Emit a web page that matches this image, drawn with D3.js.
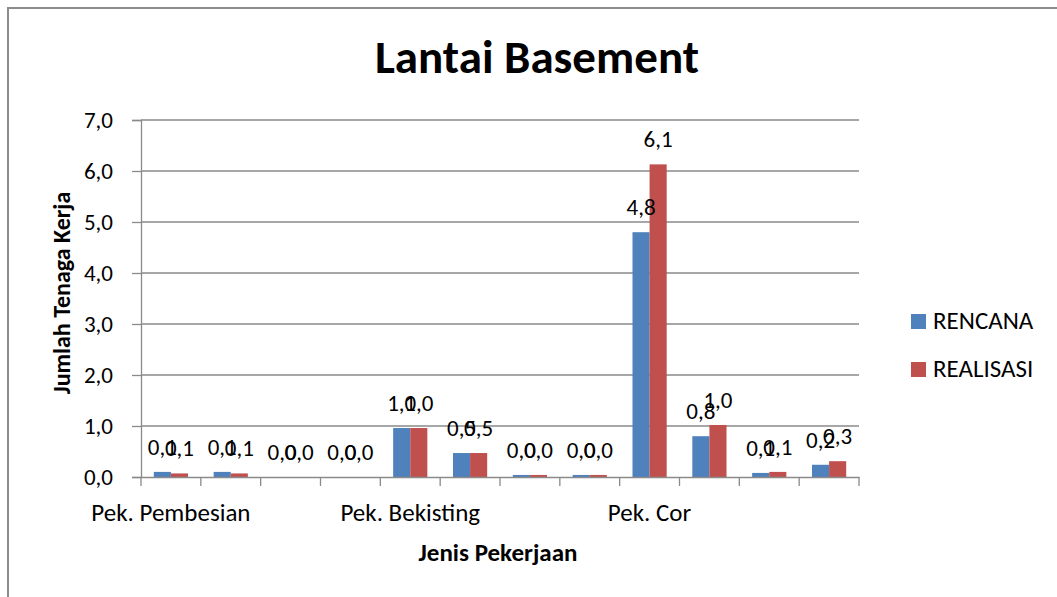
<!DOCTYPE html>
<html>
<head>
<meta charset="utf-8">
<script src="https://cdn.jsdelivr.net/npm/d3@7"></script>
<style>
  html, body { margin: 0; padding: 0; background: #fff; }
  svg { display: block; font-family: Carlito, Calibri, Lato, sans-serif; }
</style>
</head>
<body>
<svg id="chart" width="1057" height="597"></svg>
<script>
// Work categories (labels appear only on the first row of each work group)
const categoryLabels = ["Pek. Pembesian", "", "", "", "Pek. Bekisting", "", "", "", "Pek. Cor", "", "", ""];
// Planned workers
const rencana   = [0.10, 0.10, 0.00, 0.00, 0.96, 0.47, 0.04, 0.04, 4.80, 0.80, 0.08, 0.24];
// Actual workers
const realisasi = [0.07, 0.07, 0.00, 0.00, 0.96, 0.47, 0.04, 0.04, 6.13, 1.02, 0.10, 0.31];
const seriesNames = ["RENCANA", "REALISASI"];
const yTicks = [0, 1, 2, 3, 4, 5, 6, 7];

const colors = ["#4F81BD", "#C0504D"];
const gridColor = "#8a8a8a";
const font = "Carlito, Calibri, Lato, sans-serif";

const svg = d3.select("#chart");
const plot = { left: 141, right: 859, top: 120, bottom: 477 };

// chart frame
svg.append("rect")
  .attr("x", 8).attr("y", 8).attr("width", 1200).attr("height", 800)
  .attr("fill", "none").attr("stroke", "#8c8c8c").attr("stroke-width", 2);

const idx = d3.range(categoryLabels.length);
const x0 = d3.scaleBand().domain(idx).range([plot.left, plot.right]).padding(0);
const groupW = x0.bandwidth() * 2 / 3.5;
const x1 = d3.scaleBand().domain([0, 1])
  .range([(x0.bandwidth() - groupW) / 2, (x0.bandwidth() + groupW) / 2]).padding(0);
const y = d3.scaleLinear().domain([0, 7]).range([plot.bottom, plot.top]);

const fmt = v => d3.format(".1f")(v).replace(".", ",");

// horizontal gridlines
svg.append("g").selectAll("line").data(yTicks.filter(t => t > 0)).join("line")
  .attr("x1", plot.left).attr("x2", plot.right)
  .attr("y1", d => y(d)).attr("y2", d => y(d))
  .attr("stroke", gridColor).attr("stroke-width", 1.3);

// y axis
const yAxis = svg.append("g").attr("transform", `translate(${plot.left},0)`)
  .call(d3.axisLeft(y).tickValues(yTicks).tickFormat(fmt).tickSize(9).tickPadding(19));
yAxis.select(".domain").attr("stroke", gridColor).attr("stroke-width", 1.3);
yAxis.selectAll(".tick line").attr("stroke", gridColor).attr("stroke-width", 1.3);
yAxis.selectAll("text").attr("font-size", 23).attr("fill", "#000").attr("font-family", font);

// bars
const rows = idx.map(i => ({ i, vals: [rencana[i], realisasi[i]] }));
const groups = svg.append("g").selectAll("g").data(rows).join("g")
  .attr("transform", d => `translate(${x0(d.i)},0)`);
groups.selectAll("rect").data(d => d.vals.map((v, s) => ({ v, s }))).join("rect")
  .attr("x", d => x1(d.s)).attr("width", x1.bandwidth())
  .attr("y", d => y(d.v)).attr("height", d => y(0) - y(d.v))
  .attr("fill", d => colors[d.s]);

// x axis
const xAxis = svg.append("g").attr("transform", `translate(0,${plot.bottom})`)
  .call(d3.axisBottom(x0).tickFormat(() => "").tickSize(0));
xAxis.select(".domain").attr("stroke", gridColor).attr("stroke-width", 1.3);
xAxis.selectAll(".tick").remove();
svg.append("g").selectAll("line").data(d3.range(categoryLabels.length + 1)).join("line")
  .attr("x1", d => plot.left + d * x0.step()).attr("x2", d => plot.left + d * x0.step())
  .attr("y1", plot.bottom).attr("y2", plot.bottom + 9)
  .attr("stroke", gridColor).attr("stroke-width", 1.3);
svg.append("g").selectAll("text").data(idx.filter(i => categoryLabels[i])).join("text")
  .attr("x", i => x0(i) + x0.bandwidth() / 2).attr("y", 521)
  .attr("text-anchor", "middle").attr("font-size", 25).attr("fill", "#000")
  .text(i => categoryLabels[i]);

// data labels
groups.selectAll("text").data(d => d.vals.map((v, s) => ({ v, s }))).join("text")
  .attr("x", d => x1(d.s) + x1.bandwidth() / 2)
  .attr("y", d => y(d.v) - 17)
  .attr("text-anchor", "middle").attr("font-size", 23).attr("fill", "#000")
  .text(d => fmt(d.v));

// titles
svg.append("text").attr("x", 537).attr("y", 73).attr("text-anchor", "middle")
  .attr("font-size", 47).attr("font-weight", "bold").text("Lantai Basement");
svg.append("text").attr("x", 498).attr("y", 561).attr("text-anchor", "middle")
  .attr("font-size", 25).attr("font-weight", "bold").text("Jenis Pekerjaan");
svg.append("text").attr("transform", "translate(70,293) rotate(-90)")
  .attr("text-anchor", "middle").attr("font-size", 24).attr("font-weight", "bold")
  .text("Jumlah Tenaga Kerja");

// legend
const legend = svg.append("g").selectAll("g").data(seriesNames).join("g")
  .attr("transform", (d, i) => `translate(911,${314 + i * 48})`);
legend.append("rect").attr("width", 15).attr("height", 15).attr("fill", (d, i) => colors[i]);
legend.append("text").attr("x", 22).attr("y", 15).attr("font-size", 25).attr("fill", "#000")
  .text(d => d);
</script>
</body>
</html>
